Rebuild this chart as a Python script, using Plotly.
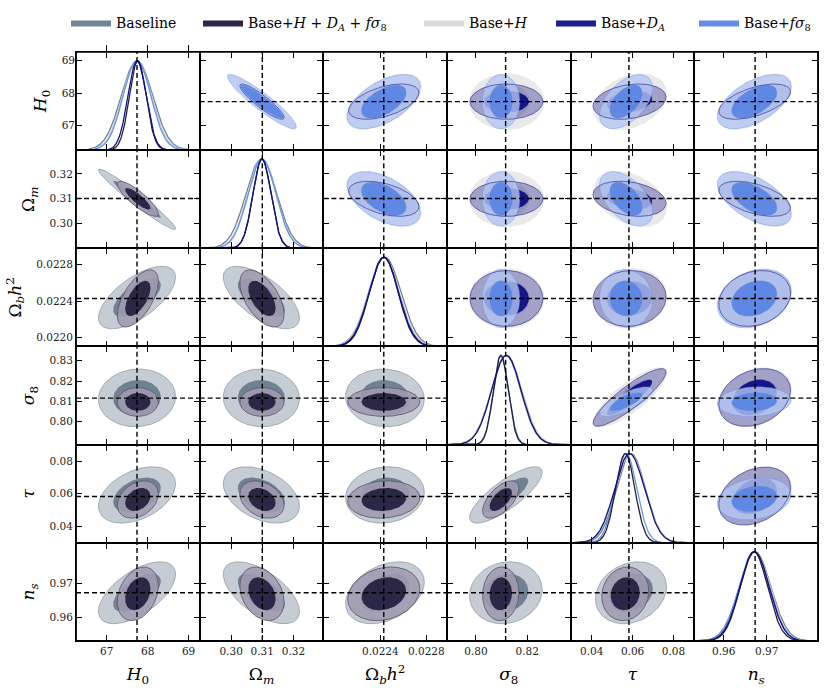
import numpy as np
import plotly.graph_objects as go
from plotly.subplots import make_subplots

# ---------------- data ----------------
PARAM_TITLES = ["<i>H</i><sub>0</sub>", "Ω<sub><i>m</i></sub>", "Ω<sub><i>b</i></sub><i>h</i><sup>2</sup>",
                "<i>σ</i><sub>8</sub>", "<i>τ</i>", "<i>n</i><sub><i>s</i></sub>"]
AXIS_RANGES = [[66.25, 69.27], [0.2899, 0.3296], [0.021904, 0.022980],
               [0.7887, 0.8370], [0.0297, 0.0902], [0.9532, 0.9819]]
X_TICKS = [[67, 68, 69], [0.30, 0.31, 0.32], [0.0224, 0.0228], [0.80, 0.82], [0.04, 0.06, 0.08], [0.96, 0.97]]
X_TICK_TEXT = [["67", "68", "69"], ["0.30", "0.31", "0.32"], ["0.0224", "0.0228"], ["0.80", "0.82"],
               ["0.04", "0.06", "0.08"], ["0.96", "0.97"]]
Y_TICKS = [[67, 68, 69], [0.30, 0.31, 0.32], [0.0220, 0.0224, 0.0228], [0.80, 0.81, 0.82, 0.83],
           [0.04, 0.06, 0.08], [0.96, 0.97]]
Y_TICK_TEXT = [["67", "68", "69"], ["0.30", "0.31", "0.32"], ["0.0220", "0.0224", "0.0228"],
               ["0.80", "0.81", "0.82", "0.83"], ["0.04", "0.06", "0.08"], ["0.96", "0.97"]]
FIDUCIAL = [67.74, 0.3100, 0.02243, 0.8116, 0.0582, 0.9673]

# parameter pairs for the correlation lists
PAIRS = [(0, 1), (0, 2), (0, 3), (0, 4), (0, 5), (1, 2), (1, 3), (1, 4), (1, 5),
         (2, 3), (2, 4), (2, 5), (3, 4), (3, 5), (4, 5)]

BASELINE_MEAN = [67.74, 0.3097, 0.02244, 0.8117, 0.0592, 0.9673]
BASELINE_SIGMA = [0.385, 0.0050, 0.000140, 0.0058, 0.0071, 0.0037]
BASELINE_CORR = [-0.97, 0.65, 0.05, 0.40, 0.60, -0.65, -0.02, -0.40, -0.60, -0.05, 0.10, 0.35, 0.80, 0.10, 0.20]

COMBINED_MEAN = [67.76, 0.3099, 0.02243, 0.8097, 0.0564, 0.9670]
COMBINED_SIGMA = [0.205, 0.0029, 0.000128, 0.0029, 0.0047, 0.0032]
COMBINED_CORR = [-0.85, 0.60, 0.00, 0.30, 0.30, -0.55, 0.00, -0.30, -0.30, 0.00, 0.10, 0.20, 0.60, 0.05, 0.10]

BASEH_MEAN = [67.74, 0.3098, 0.02243, 0.8120, 0.0588, 0.9673]
BASEH_SIGMA = [0.355, 0.0046, 0.000135, 0.0060, 0.0073, 0.0035]
BASEH_CORR = [-0.95, 0.55, 0.00, 0.30, 0.55, -0.50, 0.00, -0.35, -0.55, 0.00, 0.10, 0.25, 0.80, 0.25, 0.30]

BASEDA_MEAN = [67.74, 0.3099, 0.02243, 0.8119, 0.0585, 0.9672]
BASEDA_SIGMA = [0.222, 0.0029, 0.000125, 0.0058, 0.0073, 0.0034]
BASEDA_CORR = [-0.90, 0.50, 0.00, 0.25, 0.55, -0.45, 0.00, -0.25, -0.50, 0.00, 0.05, 0.20, 0.88, 0.25, 0.30]

BASEFS8_MEAN = [67.74, 0.3099, 0.02243, 0.8098, 0.0568, 0.9671]
BASEFS8_SIGMA = [0.340, 0.0045, 0.000130, 0.0030, 0.0053, 0.0035]
BASEFS8_CORR = [-0.92, 0.55, 0.00, 0.50, 0.55, -0.50, 0.00, -0.50, -0.55, 0.00, -0.05, 0.25, 0.75, 0.10, 0.20]

LEGEND_NAMES = ["Baseline", "Base+<i>H</i> + <i>D</i><sub><i>A</i></sub> + <i>fσ</i><sub>8</sub>",
                "Base+<i>H</i>", "Base+<i>D</i><sub><i>A</i></sub>", "Base+<i>fσ</i><sub>8</sub>"]

# ---------------- styles ----------------
FONT = "DejaVu Serif"
STY = {
    "base": dict(f2="rgba(112,128,144,0.40)", f1="rgba(108,125,142,0.95)", edge="rgba(112,128,144,0.55)",
                 line="#708090"),
    "comb": dict(f2="rgba(160,155,176,0.88)", f1="rgba(43,39,70,1.0)", edge="rgba(95,90,120,0.9)",
                 line="#231f38"),
    "H": dict(f2="rgba(211,211,211,0.50)", f1="rgba(205,205,205,0.75)", edge="rgba(200,200,200,0.6)",
              line="#c8c8c8"),
    "DA": dict(f2="rgba(0,0,128,0.30)", f1="rgba(10,10,130,0.92)", edge="rgba(70,70,165,0.8)",
               line="#10108a"),
    "FS": dict(f2="rgba(180,198,242,0.80)", f1="rgba(92,134,228,0.95)", edge="rgba(100,149,237,0.45)",
               line="#6495ed"),
}
DATA = {
    "base": (BASELINE_MEAN, BASELINE_SIGMA, BASELINE_CORR),
    "comb": (COMBINED_MEAN, COMBINED_SIGMA, COMBINED_CORR),
    "H": (BASEH_MEAN, BASEH_SIGMA, BASEH_CORR),
    "DA": (BASEDA_MEAN, BASEDA_SIGMA, BASEDA_CORR),
    "FS": (BASEFS8_MEAN, BASEFS8_SIGMA, BASEFS8_CORR),
}
LEGEND_KEYS = ["base", "comb", "H", "DA", "FS"]
LEGEND_X = [66, 198, 419, 551, 694]   # left pixel of each legend entry


def corr_of(corr, i, j):
    a, b = min(i, j), max(i, j)
    return corr[PAIRS.index((a, b))]


def ellipse(key, ix, iy, prob):
    mean, sig, corr = DATA[key]
    rho = corr_of(corr, ix, iy)
    cov = np.array([[sig[ix] ** 2, rho * sig[ix] * sig[iy]], [rho * sig[ix] * sig[iy], sig[iy] ** 2]])
    L = np.linalg.cholesky(cov)
    r = np.sqrt(-2.0 * np.log(1.0 - prob))
    t = np.linspace(0, 2 * np.pi, 160)
    pts = L @ np.vstack([r * np.cos(t), r * np.sin(t)])
    return pts[0] + mean[ix], pts[1] + mean[iy]


N = 6
fig = make_subplots(rows=N, cols=N, horizontal_spacing=0, vertical_spacing=0)
legend_done = set()


def add_fill(key, ix, iy, prob, row, col, level, edge=False):
    x, y = ellipse(key, ix, iy, prob)
    st = STY[key]
    show = False
    li = LEGEND_KEYS.index(key)
    if level == 1 and key not in legend_done:
        show = True
        legend_done.add(key)
    fig.add_trace(go.Scatter(
        x=x, y=y, mode="lines", fill="toself",
        fillcolor=st["f2"] if level == 2 else st["f1"],
        line=dict(color=st["edge"] if edge else "rgba(0,0,0,0)", width=1.0),
        name=LEGEND_NAMES[li], showlegend=show,
        legend="legend" if li == 0 else f"legend{li + 1}", hoverinfo="skip"), row=row, col=col)


def add_outline(key, ix, iy, prob, row, col):
    x, y = ellipse(key, ix, iy, prob)
    fig.add_trace(go.Scatter(x=x, y=y, mode="lines", line=dict(color=STY[key]["edge"], width=1.0),
                             showlegend=False, hoverinfo="skip"), row=row, col=col)


P1, P2 = 0.68, 0.95

for r in range(N):
    for c in range(N):
        row, col = r + 1, c + 1
        if r > c:  # lower triangle
            add_fill("base", c, r, P2, row, col, 2, edge=True)
            add_fill("base", c, r, P1, row, col, 1)
            add_fill("comb", c, r, P2, row, col, 2, edge=True)
            add_fill("comb", c, r, P1, row, col, 1)
        elif r < c:  # upper triangle
            add_fill("H", c, r, P2, row, col, 2)
            add_fill("H", c, r, P1, row, col, 1)
            add_fill("DA", c, r, P2, row, col, 2)
            add_fill("DA", c, r, P1, row, col, 1)
            add_fill("FS", c, r, P2, row, col, 2, edge=True)
            add_fill("FS", c, r, P1, row, col, 1)
            add_outline("DA", c, r, P2, row, col)
        else:  # diagonal 1D
            lo, hi = AXIS_RANGES[c]
            xs = np.linspace(lo, hi, 300)
            for key in ["base", "H", "FS", "comb", "DA"]:
                m, s, _ = DATA[key]
                ys = np.exp(-0.5 * ((xs - m[c]) / s[c]) ** 2)
                fig.add_trace(go.Scatter(x=xs, y=ys, mode="lines",
                                         line=dict(color=STY[key]["line"], width=1.3),
                                         showlegend=False, hoverinfo="skip"), row=row, col=col)

# axes
TICKFONT = dict(family=FONT, size=10.5, color="#222")
TITLEFONT = dict(family=FONT, size=17, color="black")
AX_COMMON = dict(showline=True, linecolor="black", linewidth=0.9, mirror="allticks", ticks="inside",
                 ticklen=6, tickwidth=1.1, tickcolor="black", showgrid=False, zeroline=False,
                 tickfont=TICKFONT)
for r in range(N):
    for c in range(N):
        k = r * N + c + 1
        xname = "xaxis" if k == 1 else f"xaxis{k}"
        yname = "yaxis" if k == 1 else f"yaxis{k}"
        xa = dict(AX_COMMON, range=AXIS_RANGES[c], tickvals=X_TICKS[c], ticktext=X_TICK_TEXT[c],
                  showticklabels=(r == N - 1))
        if r == N - 1:
            xa["title"] = dict(text=PARAM_TITLES[c], font=TITLEFONT, standoff=12)
        fig.layout[xname].update(xa)
        if r == c:
            ya = dict(showline=True, linecolor="black", linewidth=0.9, mirror=True, ticks="",
                      showticklabels=False, showgrid=False, zeroline=False, range=[0, 1.1])
        else:
            ya = dict(AX_COMMON, range=AXIS_RANGES[r], tickvals=Y_TICKS[r], ticktext=Y_TICK_TEXT[r],
                      showticklabels=(c == 0))
            if c == 0:
                ya["title"] = dict(text=PARAM_TITLES[r], font=TITLEFONT, standoff=10)
        fig.layout[yname].update(ya)

# overlay axis for the H0 labels on the first diagonal panel
fig.update_layout(yaxis37=dict(overlaying="y", anchor="x", side="left", range=AXIS_RANGES[0],
                               tickvals=Y_TICKS[0], ticktext=Y_TICK_TEXT[0], ticks="inside", ticklen=6,
                               tickwidth=1.1, tickcolor="black", showgrid=False, zeroline=False,
                               showline=False, tickfont=TICKFONT,
                               title=dict(text=PARAM_TITLES[0], font=TITLEFONT, standoff=10)))
fig.add_trace(go.Scatter(x=[FIDUCIAL[0], FIDUCIAL[0]], y=AXIS_RANGES[0], xaxis="x", yaxis="y37",
                         mode="lines", line=dict(color="rgba(0,0,0,0)"), showlegend=False,
                         hoverinfo="skip"))

# fiducial dashed lines
DASH = dict(color="black", width=1.4, dash="5px,3px")
for r in range(N):
    for c in range(N):
        k = r * N + c + 1
        xr = "x" if k == 1 else f"x{k}"
        yr = "y" if k == 1 else f"y{k}"
        fig.add_shape(type="line", xref=xr, yref=f"{yr} domain", x0=FIDUCIAL[c], x1=FIDUCIAL[c],
                      y0=0, y1=1, line=DASH, layer="above")
        if r != c:
            fig.add_shape(type="line", xref=f"{xr} domain", yref=yr, x0=0, x1=1,
                          y0=FIDUCIAL[r], y1=FIDUCIAL[r], line=DASH, layer="above")

# outer frame of the grid
fig.add_shape(type="rect", xref="paper", yref="paper", x0=0, x1=1, y0=0, y1=1,
              line=dict(color="black", width=1.8), layer="above")

legends = {}
for li, px in enumerate(LEGEND_X):
    nm = "legend" if li == 0 else f"legend{li + 1}"
    legends[nm] = dict(orientation="h", x=px / 831, xanchor="left", xref="container",
                       y=1 - 23 / 694, yanchor="middle", yref="container",
                       font=dict(family=FONT, size=14, color="black"), itemwidth=40,
                       bgcolor="rgba(0,0,0,0)")

fig.update_layout(
    width=831, height=694,
    margin=dict(l=76, r=12, t=43, b=53),
    paper_bgcolor="white", plot_bgcolor="white",
    font=dict(family=FONT, color="black"),
    showlegend=True,
    hovermode=False,
    **legends,
)

fig.write_html("out.html", config={"displayModeBar": False},
               post_script="document.body.style.margin='0px';document.body.style.padding='0px';")
